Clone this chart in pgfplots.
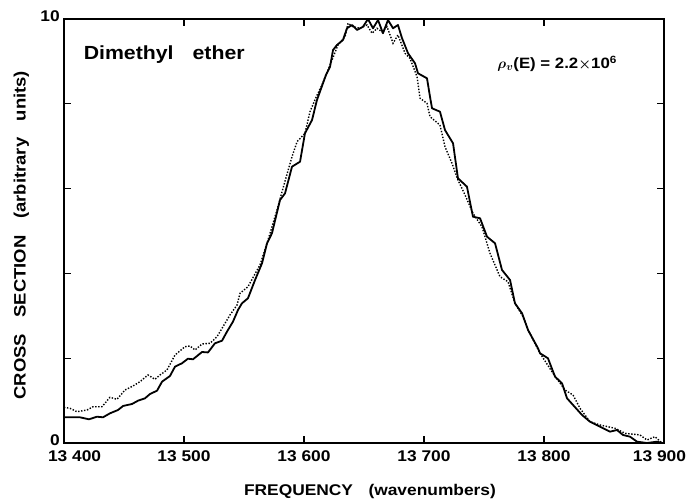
\documentclass[border=0pt]{standalone}
\usepackage{pgfplots}
\pgfplotsset{compat=1.18}
\usepackage{fontspec}
\setmainfont{Liberation Sans}[FakeStretch=1.12]
\begin{document}
\begin{tikzpicture}[x=1pt,y=1pt]
\useasboundingbox (0,0) rectangle (687,502);
\begin{axis}[
 at={(64pt,59pt)}, anchor=south west,
 scale only axis, width=600pt, height=424pt,
 xmin=13400, xmax=13900, ymin=0, ymax=10,
 scaled x ticks=false,
 xtick={13400,13500,13600,13700,13800,13900},
 xticklabels={\hbox to 0pt{\hskip-16pt 13 400\hss},13 500,13 600,13 700,13 800,\hbox to 0pt{\hss 13 900\hskip-22pt}},
 ytick={0,2,4,6,8,10}, yticklabels={0,,,,,10},
 tick align=inside, major tick length=7pt,
 tick style={line width=1.2pt,black},
 axis line style={line width=1.6pt},
 ticklabel style={font=\fontsize{15.5}{18}\selectfont\bfseries},
 xticklabel style={yshift=-7pt, inner sep=0pt},
 yticklabel style={yshift=3pt, inner sep=1pt, xshift=-3pt},
 /pgf/number format/assume math mode=true,
 xlabel={FREQUENCY\quad(wavenumbers)},
 ylabel={CROSS\quad SECTION\quad(arbitrary\quad units)},
 xlabel style={font=\fontsize{15.5}{18}\selectfont\bfseries, at={(axis description cs:0.51,-0.115)}, anchor=center},
 ylabel style={font=\fontsize{16.5}{18}\selectfont\bfseries, at={(axis description cs:-0.071,0.49)}, anchor=center},
 clip=false,
]
\addplot[black, line width=1.8pt, line join=round] coordinates {
(13400.8,0.606) (13413.3,0.606) (13420.8,0.559) (13427.5,0.620) (13432.5,0.606)
(13438.3,0.700) (13445.0,0.778) (13449.2,0.873) (13456.7,0.920) (13461.7,0.998)
(13467.5,1.054) (13471.7,1.156) (13477.5,1.233) (13481.7,1.446) (13488.3,1.580)
(13492.5,1.800) (13498.3,1.880) (13503.3,1.988) (13507.5,1.974) (13515.0,2.146)
(13520.0,2.136) (13525.8,2.351) (13531.7,2.413) (13535.8,2.625) (13540.8,2.861)
(13545.0,3.137) (13548.3,3.295) (13553.3,3.413) (13559.2,3.844) (13565.0,4.238)
(13569.2,4.710) (13573.3,4.946) (13580.0,5.731) (13584.2,5.889) (13590.0,6.517)
(13596.7,6.634) (13600.8,7.304) (13606.7,7.618) (13610.8,8.090) (13615.0,8.42)
(13618.3,8.68) (13621.7,8.875) (13624.2,9.269) (13627.5,9.387) (13632.5,9.505)
(13635.8,9.781) (13640.0,9.858) (13644.2,9.741) (13649.2,9.818) (13653.3,10.0)
(13657.5,9.781) (13661.7,9.976) (13665.8,9.663) (13670.0,9.976) (13674.2,9.781)
(13678.3,9.858) (13681.7,9.545) (13686.7,9.191) (13692.5,8.955) (13695.0,8.719)
(13702.5,8.601) (13705.0,8.167) (13706.7,7.894) (13713.3,7.814) (13717.5,7.38)
(13724.2,7.068) (13728.3,6.243) (13735.8,6.045) (13740.8,5.337) (13746.7,5.300)
(13752.5,4.866) (13759.2,4.710) (13765.0,4.080) (13771.7,3.844) (13775.8,3.295)
(13781.7,3.059) (13786.7,2.665) (13795.0,2.233) (13796.7,2.116) (13803.3,1.998)
(13809.2,1.564) (13815.0,1.408) (13819.2,1.054) (13824.2,0.896) (13831.7,0.660)
(13838.3,0.502) (13846.7,0.384) (13855.0,0.267) (13860.8,0.307) (13865.8,0.189)
(13871.7,0.149) (13877.5,0.031) (13885.8,0.0) (13894.2,0.031) (13898.3,0.0)
};
\addplot[black, line width=1.4pt, dash pattern=on 1.4pt off 1.6pt] coordinates {
(13400,0.842) (13405.0,0.818) (13410.8,0.738) (13419.2,0.778) (13424.2,0.856)
(13431.7,0.856) (13438.3,1.078) (13444.2,1.031) (13450.8,1.250) (13457.5,1.344)
(13463.3,1.446) (13470.0,1.604) (13475.8,1.502) (13480.0,1.604) (13485.8,1.722)
(13492.5,2.075) (13500.8,2.271) (13505.0,2.288) (13509.2,2.193) (13515.0,2.335)
(13521.7,2.351) (13527.5,2.507) (13532.5,2.743) (13538.3,3.019) (13544.2,3.255)
(13546.7,3.531) (13553.3,3.686) (13563.3,4.198) (13569.2,4.710) (13577.5,5.495)
(13582.5,6.007) (13590.0,6.752) (13594.2,7.106) (13600.8,7.304) (13605.0,7.814)
(13610.0,8.15) (13615.0,8.45) (13621.7,8.915) (13628.3,9.387) (13634.2,9.583)
(13636.7,9.899) (13640.8,9.818) (13646.7,9.781) (13652.5,9.858) (13656.7,9.663)
(13660.8,9.781) (13665.0,9.700) (13669.2,9.818) (13671.7,9.623) (13674.2,9.427)
(13678.3,9.623) (13684.2,9.191) (13688.3,9.073) (13694.2,8.639) (13696.7,8.130)
(13702.5,8.012) (13705.0,7.696) (13713.3,7.500) (13717.5,6.988) (13723.3,6.597)
(13728.3,6.203) (13734.2,5.849) (13740.8,5.417) (13748.3,5.101) (13755.0,4.474)
(13763.3,3.922) (13770.0,3.804) (13775.8,3.295) (13782.5,2.979) (13786.7,2.665)
(13796.7,2.116) (13807.5,1.644) (13817.5,1.250) (13824.2,1.132) (13830.0,0.818)
(13838.3,0.502) (13846.7,0.425) (13859.2,0.347) (13867.5,0.229) (13880.0,0.189)
(13885.8,0.071) (13892.5,0.149) (13898.3,0.0)
};
\node[font=\fontsize{19}{22}\selectfont\bfseries, anchor=center]
  at (axis description cs:0.167,0.915) {Dimethyl\quad ether};
\node[font=\fontsize{15}{17}\selectfont\bfseries, anchor=center]
  at (axis description cs:0.822,0.894) {{\boldmath$\rho_{v}$}(E) = 2.2{\boldmath$\times$}10\textsuperscript{6}};
\end{axis}
\end{tikzpicture}
\end{document}
